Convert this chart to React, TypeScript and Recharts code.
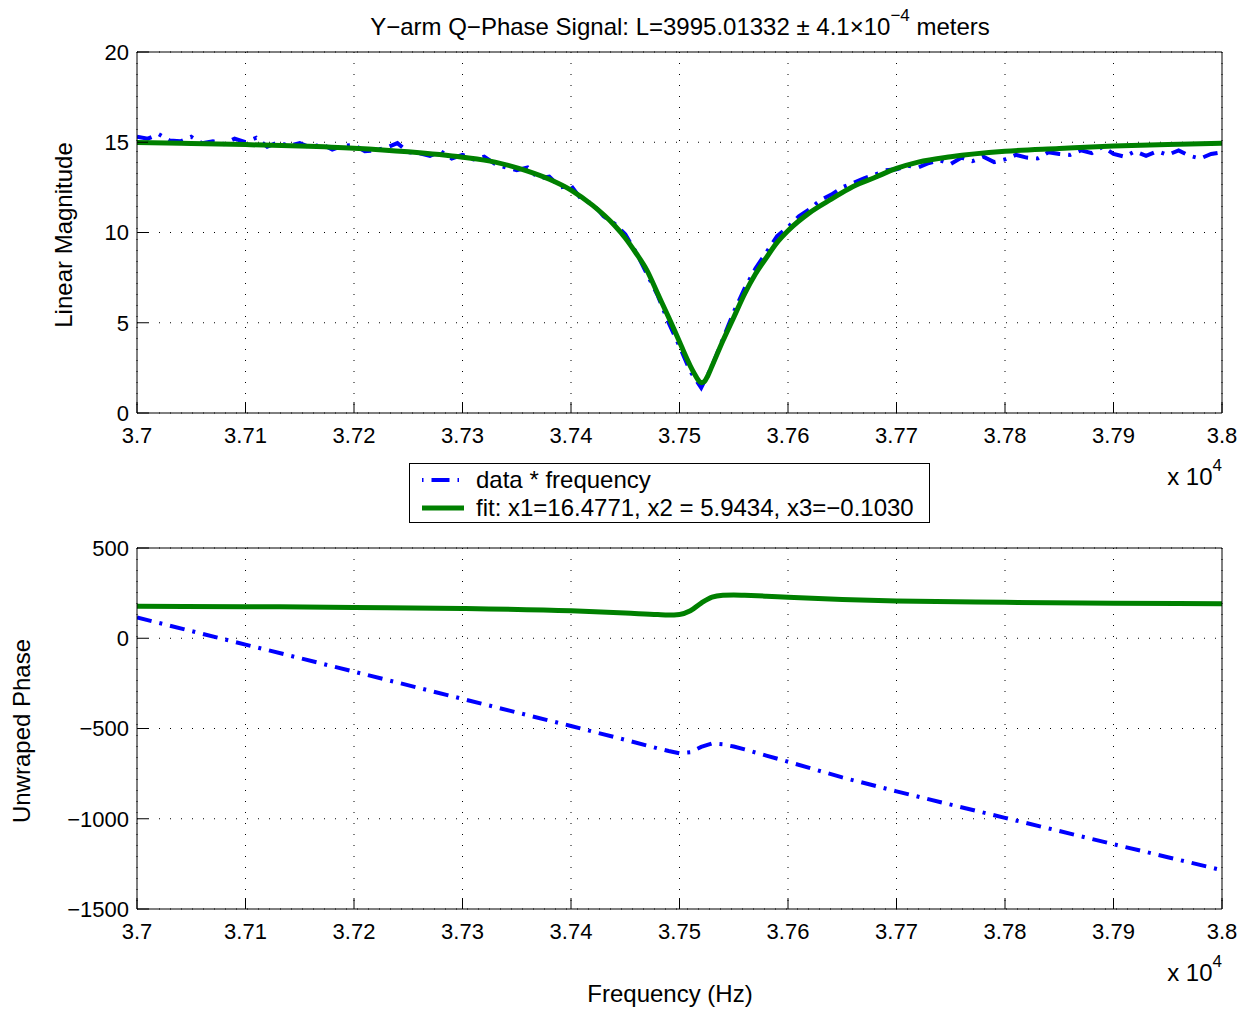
import { LineChart, Line, XAxis, YAxis, CartesianGrid } from 'recharts';

const FONT = '"Liberation Sans", Arial, Helvetica, sans-serif';

// frequency grid of the measured magnitude (Hz)
const magFreq = [
    37000, 37010, 37020, 37030, 37040, 37050, 37060, 37070, 37080, 37090,
    37100, 37110, 37120, 37130, 37140, 37150, 37160, 37170, 37180, 37190,
    37200, 37210, 37220, 37230, 37240, 37250, 37260, 37270, 37280, 37290,
    37300, 37310, 37320, 37330, 37340, 37350, 37360, 37370, 37380, 37390,
    37400, 37410, 37420, 37430, 37440, 37450, 37460, 37470, 37480, 37490,
    37500, 37510, 37520, 37530, 37540, 37550, 37560, 37570, 37580, 37590,
    37600, 37610, 37620, 37630, 37640, 37650, 37660, 37670, 37680, 37690,
    37700, 37710, 37720, 37730, 37740, 37750, 37760, 37770, 37780, 37790,
    37800, 37810, 37820, 37830, 37840, 37850, 37860, 37870, 37880, 37890,
    37900, 37910, 37920, 37930, 37940, 37950, 37960, 37970, 37980, 37990,
    38000,
];
// measured magnitude (data * frequency)
const magData = [
    15.3, 15.2, 15.45, 15.1, 15.05, 15.3, 14.95, 15.05, 14.9, 15.2,
    15.0, 15.25, 14.75, 15.0, 14.8, 14.95, 14.7, 14.9, 14.6, 14.8,
    14.85, 14.5, 14.55, 14.7, 14.95, 14.45, 14.4, 14.25, 14.5, 14.1,
    14.3, 14.05, 14.2, 13.8, 13.6, 13.45, 13.6, 13.0, 13.1, 12.5,
    12.6, 11.8, 11.6, 10.9, 10.5, 9.9, 8.9, 7.7, 6.5, 5.0,
    3.7, 2.3, 1.4, 2.6, 4.1, 5.6, 6.9, 8.0, 8.9, 9.8,
    10.3, 10.9, 11.3, 11.8, 12.1, 12.5, 12.75, 13.0, 13.2, 13.45,
    13.5, 13.7, 13.6, 13.85, 14.0, 13.8, 14.15, 13.95, 14.2, 13.9,
    14.05, 14.3, 14.15, 14.1, 14.45, 14.35, 14.3, 14.55, 14.4, 14.75,
    14.35, 14.2, 14.5, 14.25, 14.5, 14.3, 14.55, 14.25, 14.1, 14.35,
    14.45,
];

// fitted magnitude
const fitMagFreq = [
    37000, 37050, 37100, 37150, 37200, 37250, 37300, 37330, 37360, 37380,
    37400, 37420, 37440, 37450, 37460, 37470, 37480, 37490, 37500, 37505,
    37510, 37514, 37517, 37520, 37523, 37526, 37530, 37540, 37550, 37560,
    37570, 37580, 37590, 37600, 37620, 37640, 37660, 37680, 37700, 37720,
    37750, 37800, 37850, 37900, 37950, 38000,
];
const fitMag = [
    14.98, 14.93, 14.87, 14.79, 14.67, 14.47, 14.17, 13.9, 13.4, 12.95,
    12.35, 11.5, 10.4, 9.7, 8.85, 7.9, 6.6, 5.3, 3.95, 3.25,
    2.6, 2.15, 1.85, 1.68, 1.75, 2.05, 2.6, 4.0, 5.3, 6.6,
    7.7, 8.6, 9.45, 10.1, 11.1, 11.85, 12.55, 13.05, 13.55, 13.9,
    14.2, 14.5, 14.65, 14.79, 14.88, 14.94,
];

// unwrapped phase of the data
const phaseFreq = [
    37000, 37100, 37200, 37300, 37400, 37450, 37480, 37490, 37500, 37510,
    37520, 37530, 37540, 37550, 37560, 37580, 37600, 37650, 37700, 37750,
    37800, 37850, 37900, 37950, 38000,
];
const phaseData = [
    115, -35, -185, -336, -486, -563, -610, -625, -637, -631,
    -602, -583, -588, -600, -616, -650, -684, -771, -848, -922,
    -995, -1068, -1141, -1213, -1285,
];

// fitted phase
const fitPhaseFreq = [
    37000, 37100, 37200, 37300, 37400, 37450, 37480, 37490, 37500, 37510,
    37520, 37530, 37540, 37550, 37560, 37580, 37600, 37650, 37700, 37800,
    37900, 38000,
];
const fitPhase = [
    177, 175, 171, 165, 152, 140, 131, 129, 132, 152,
    195, 228, 238, 240, 238, 233, 227, 215, 207, 199,
    194, 191,
];

const xTicks = [37000, 37100, 37200, 37300, 37400, 37500, 37600, 37700, 37800, 37900, 38000];
const magTicks = [0, 5, 10, 15, 20];
const phaseTicks = [-1500, -1000, -500, 0, 500];

const zip = (xs: number[], ys: number[]) => xs.map((f, i) => ({ f, v: ys[i] }));

const fmtX = (v: number) => parseFloat((v / 10000).toFixed(3)).toString();
const fmtY = (v: number) => String(v).replace('-', '\u2212');

const tickStyle = { fontSize: 22, fill: '#000', fontFamily: FONT };
const DASHDOT = '15 8 3 8';

type PanelProps = {
    top: number;
    domain: [number, number];
    yTicks: number[];
    data: { f: number; v: number }[];
    fit: { f: number; v: number }[];
};

const Panel = ({ top, domain, yTicks, data, fit }: PanelProps) => (
    <div style={{ position: 'absolute', left: 0, top }}>
        <LineChart width={1245} height={470} margin={{ top: 51, right: 22, bottom: 17, left: 57 }}>
            <CartesianGrid stroke="#000" strokeDasharray="1 10" />
            <XAxis
                type="number"
                dataKey="f"
                domain={[37000, 38000]}
                ticks={xTicks}
                allowDataOverflow
                height={40}
                tickSize={-11}
                tickMargin={25}
                tickFormatter={fmtX}
                tick={tickStyle}
                stroke="#000"
            />
            <XAxis
                xAxisId="top"
                orientation="top"
                type="number"
                dataKey="f"
                domain={[37000, 38000]}
                ticks={xTicks}
                height={1}
                tick={false}
                tickSize={-11}
                stroke="#000"
            />
            <YAxis
                type="number"
                domain={domain}
                ticks={yTicks}
                allowDataOverflow
                width={80}
                tickSize={-11}
                tickMargin={19}
                tickFormatter={fmtY}
                tick={tickStyle}
                stroke="#000"
            />
            <YAxis
                yAxisId="right"
                orientation="right"
                type="number"
                domain={domain}
                ticks={yTicks}
                width={1}
                tick={false}
                tickSize={-11}
                stroke="#000"
            />
            <Line
                data={data}
                dataKey="v"
                stroke="#0000ff"
                strokeWidth={4}
                strokeDasharray={DASHDOT}
                dot={false}
                type="linear"
                isAnimationActive={false}
            />
            <Line
                data={fit}
                dataKey="v"
                stroke="#008000"
                strokeWidth={5}
                dot={false}
                type="monotone"
                isAnimationActive={false}
            />
        </LineChart>
    </div>
);

const abs = (left: number, top: number, extra: React.CSSProperties = {}): React.CSSProperties => ({
    position: 'absolute',
    left,
    top,
    fontSize: 24,
    whiteSpace: 'nowrap',
    lineHeight: 1,
    ...extra,
});

const sup = { fontSize: 17, position: 'relative' as const, top: -5 };

const Times10 = ({ top }: { top: number }) => (
    <div style={abs(1222, top, { transform: 'translateX(-100%)' })}>
        x 10<sup style={sup}>4</sup>
    </div>
);

const App = () => (
    <div style={{ position: 'relative', width: 1245, height: 1013, background: '#fff', fontFamily: FONT, color: '#000' }}>
        <style>{'body{margin:0}'}</style>
        <div style={abs(680, 12, { transform: 'translateX(-50%)' })}>
            Y{'\u2212'}arm Q{'\u2212'}Phase Signal: L=3995.01332 {'\u00b1'} 4.1{'\u00d7'}10
            <sup style={sup}>{'\u2212'}4</sup> meters
        </div>

        <Panel top={0} domain={[0, 20]} yTicks={magTicks} data={zip(magFreq, magData)} fit={zip(fitMagFreq, fitMag)} />
        <Panel
            top={496}
            domain={[-1500, 500]}
            yTicks={phaseTicks}
            data={zip(phaseFreq, phaseData)}
            fit={zip(fitPhaseFreq, fitPhase)}
        />

        <div style={abs(64, 235, { transform: 'translate(-50%, -50%) rotate(-90deg)' })}>Linear Magnitude</div>
        <div style={abs(22, 731, { transform: 'translate(-50%, -50%) rotate(-90deg)' })}>Unwraped Phase</div>

        <Times10 top={462} />
        <Times10 top={958} />
        <div style={abs(670, 982, { transform: 'translateX(-50%)' })}>Frequency (Hz)</div>

        {/* legend */}
        <div
            style={{
                position: 'absolute',
                left: 409,
                top: 463,
                width: 519,
                height: 58,
                border: '1px solid #000',
                background: '#fff',
            }}
        >
            <svg width={60} height={58} style={{ position: 'absolute', left: 0, top: 0 }}>
                <line x1={12} y1={16} x2={54} y2={16} stroke="#0000ff" strokeWidth={4} strokeDasharray="1.5 8 18 8 1.5 20" />
                <line x1={12} y1={44} x2={54} y2={44} stroke="#008000" strokeWidth={5} />
            </svg>
            <div style={abs(66, 4)}>data * frequency</div>
            <div style={abs(66, 32)}>fit: x1=16.4771, x2 = 5.9434, x3={'\u2212'}0.1030</div>
        </div>
    </div>
);

export default App;
